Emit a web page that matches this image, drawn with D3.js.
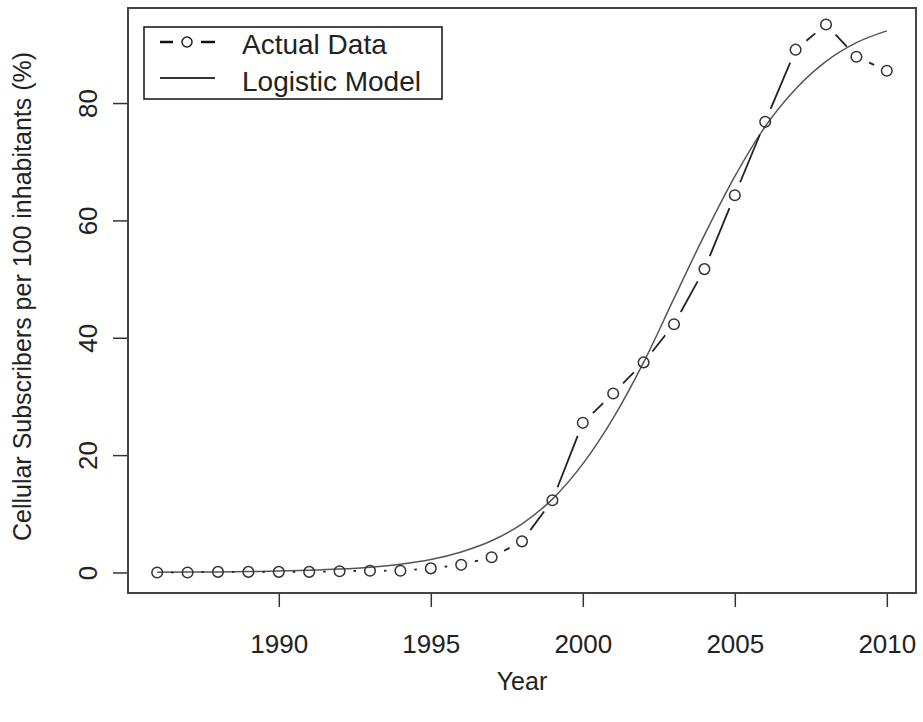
<!DOCTYPE html>
<html>
<head>
<meta charset="utf-8">
<script src="https://cdn.jsdelivr.net/npm/d3@7"></script>
<style>
  body { margin: 0; background: #fff; }
  text { font-family: "Liberation Sans", Arial, sans-serif; fill: #222; }
</style>
</head>
<body>
<div id="chart"></div>
<script>
// data
var years = [1986, 1987, 1988, 1989, 1990, 1991, 1992, 1993, 1994, 1995, 1996, 1997,
             1998, 1999, 2000, 2001, 2002, 2003, 2004, 2005, 2006, 2007, 2008, 2009, 2010];
var actual = [0.0, 0.0, 0.1, 0.1, 0.1, 0.1, 0.2, 0.3, 0.3, 0.7, 1.3, 2.6,
              5.3, 12.3, 25.5, 30.5, 35.8, 42.3, 51.7, 64.3, 76.8, 89.1, 93.4, 87.9, 85.5];
var logistic = [0.04, 0.06, 0.09, 0.15, 0.23, 0.37, 0.58, 0.9, 1.4, 2.2, 3.5, 5.4,
                8.3, 12.5, 18.5, 26.3, 35.8, 46.7, 57.5, 67.5, 76.0, 82.4, 87.1, 90.3, 92.3];
var xTicks = [1990, 1995, 2000, 2005, 2010];
var yTicks = [0, 20, 40, 60, 80];
var legendLabels = ["Actual Data", "Logistic Model"];

var width = 923, height = 722;
var svg = d3.select('#chart').append('svg')
  .attr('width', width)
  .attr('height', height);

var x = d3.scaleLinear().domain([1985.04, 2010.96]).range([128, 916]);
var y = d3.scaleLinear().domain([-3.5, 96.2]).range([593, 8]);

// x axis
var gx = svg.append('g')
  .attr('transform', 'translate(0,593)')
  .call(d3.axisBottom(x).tickValues(xTicks).tickSize(14).tickFormat(d3.format('d')));
gx.select('.domain').remove();
gx.selectAll('.tick line').attr('stroke', '#333').attr('stroke-width', 1.5);
gx.selectAll('.tick text')
  .attr('y', 60).attr('dy', 0)
  .style('font-size', '26px')
  .style('font-family', '"Liberation Sans", Arial, sans-serif')
  .attr('fill', '#222');

// y axis
var gy = svg.append('g')
  .attr('transform', 'translate(128,0)')
  .call(d3.axisLeft(y).tickValues(yTicks).tickSize(15));
gy.select('.domain').remove();
gy.selectAll('.tick line').attr('stroke', '#333').attr('stroke-width', 1.5);
gy.selectAll('.tick text')
  .attr('x', null).attr('dy', 0)
  .attr('transform', 'translate(-31,0) rotate(-90)')
  .attr('text-anchor', 'middle')
  .style('font-size', '26px')
  .style('font-family', '"Liberation Sans", Arial, sans-serif')
  .attr('fill', '#222');

// plot box
svg.append('rect')
  .attr('x', 128).attr('y', 8)
  .attr('width', 916 - 128).attr('height', 593 - 8)
  .attr('fill', 'none')
  .attr('stroke', '#444')
  .attr('stroke-width', 2);

// axis titles
svg.append('text')
  .attr('x', (128 + 916) / 2).attr('y', 690)
  .attr('text-anchor', 'middle')
  .style('font-size', '25px')
  .text('Year');

svg.append('text')
  .attr('transform', 'translate(31,' + ((8 + 593) / 2 - 4) + ') rotate(-90)')
  .attr('text-anchor', 'middle')
  .style('font-size', '25px')
  .text('Cellular Subscribers per 100 inhabitants (%)');

// logistic model line
var logLine = d3.line()
  .x(function(d, i) { return x(years[i]); })
  .y(function(d) { return y(d); })
  .curve(d3.curveMonotoneX);

svg.append('path')
  .datum(logistic)
  .attr('d', logLine)
  .attr('fill', 'none')
  .attr('stroke', '#555')
  .attr('stroke-width', 1.5);

// actual data: R type="b" style, segments stop short of each point
var gap = 14;
var pts = years.map(function(yr, i) { return [x(yr), y(actual[i])]; });
var segs = d3.pairs(pts).filter(function(p) {
  var dx = p[1][0] - p[0][0], dy = p[1][1] - p[0][1];
  return Math.sqrt(dx * dx + dy * dy) > 2 * gap;
});

svg.append('g').selectAll('line')
  .data(segs)
  .join('line')
  .attr('x1', function(p) { var d = Math.hypot(p[1][0] - p[0][0], p[1][1] - p[0][1]); return p[0][0] + (p[1][0] - p[0][0]) * gap / d; })
  .attr('y1', function(p) { var d = Math.hypot(p[1][0] - p[0][0], p[1][1] - p[0][1]); return p[0][1] + (p[1][1] - p[0][1]) * gap / d; })
  .attr('x2', function(p) { var d = Math.hypot(p[1][0] - p[0][0], p[1][1] - p[0][1]); return p[1][0] - (p[1][0] - p[0][0]) * gap / d; })
  .attr('y2', function(p) { var d = Math.hypot(p[1][0] - p[0][0], p[1][1] - p[0][1]); return p[1][1] - (p[1][1] - p[0][1]) * gap / d; })
  .attr('stroke', '#222')
  .attr('stroke-width', 1.8);

svg.append('g').selectAll('circle')
  .data(actual)
  .join('circle')
  .attr('cx', function(d, i) { return x(years[i]); })
  .attr('cy', function(d) { return y(d); })
  .attr('r', 5.3)
  .attr('fill', 'none')
  .attr('stroke', '#333')
  .attr('stroke-width', 1.5);

// legend
var legend = svg.append('g');
legend.append('rect')
  .attr('x', 144).attr('y', 27)
  .attr('width', 298).attr('height', 72)
  .attr('fill', '#fff')
  .attr('stroke', '#111')
  .attr('stroke-width', 1.5);

legend.append('line')
  .attr('x1', 160).attr('x2', 173).attr('y1', 42).attr('y2', 42)
  .attr('stroke', '#111').attr('stroke-width', 2.5);
legend.append('line')
  .attr('x1', 201).attr('x2', 215).attr('y1', 42).attr('y2', 42)
  .attr('stroke', '#111').attr('stroke-width', 2.5);
legend.append('circle')
  .attr('cx', 187).attr('cy', 42).attr('r', 5)
  .attr('fill', 'none').attr('stroke', '#222').attr('stroke-width', 1.5);
legend.append('line')
  .attr('x1', 160).attr('x2', 215).attr('y1', 78).attr('y2', 78)
  .attr('stroke', '#333').attr('stroke-width', 2);

legend.selectAll('text.lg')
  .data(legendLabels)
  .join('text')
  .attr('class', 'lg')
  .attr('x', 242)
  .attr('y', function(d, i) { return 54 + i * 37; })
  .style('font-size', '28px')
  .text(function(d) { return d; });
</script>
</body>
</html>
